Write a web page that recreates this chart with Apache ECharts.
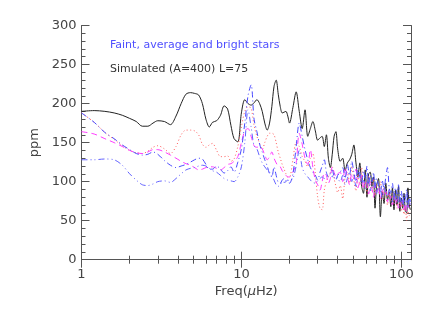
<!DOCTYPE html>
<html>
<head>
<meta charset="utf-8">
<script src="https://cdn.jsdelivr.net/npm/echarts@6/dist/echarts.min.js"></script>
<style>html,body{margin:0;padding:0;background:#fff}#c{width:436px;height:312px}</style>
</head>
<body>
<div id="c"></div>
<script>
var freq = [1,1.2,1.4,1.6,1.8,2,2.2,2.4,2.6,2.8,3,3.3,3.6,3.9,4.2,4.5,4.8,5.1,5.4,5.7,6,6.3,6.6,7,7.4,7.8,8.2,8.6,9,9.5,10,
 10.5,11,11.5,12,12.5,13,13.5,14,14.5,15,15.5,16,16.5,17,17.5,18,18.5,19,19.5,20,21,22,23,24,25,26,27,28,29,30,31,32,33,34,35,36,37,38,39,40,
 41.5,43,44.5,46,47.5,49,50.5,52,53.5,55,56.5,58,59.5,61,62.5,64,65.5,67,68.5,70,72,74,76,78,80,82,84,86,88,90,92,94,96,98,100,102,104,106,108,110,112,114];

var simulated = [190,191,190,188,185,181,177,171,171,175,178,177,173,184,200,212,214,213,211,200,180,170,176,178,185,197,193,172,155,151,188,
 205,200,198,201,205,200,190,175,166,175,196,222,230,212,196,188,189,190,184,175,195,215,190,168,192,158,168,177,165,153,156,158,145,160,130,118,135,158,164,142,
 126,130,114,124,128,135,147,125,106,124,94,85,115,80,110,112,94,106,66,94,104,55,87,72,98,77,87,68,92,64,89,70,94,62,79,66,85,62,60,92,70,64];

var redDotted = [188,176,163,154,146,140,137,136,139,144,146,142,136,145,160,166,166,165,160,148,144,147,149,140,132,132,133,126,129,145,170,
 190,196,194,172,158,149,141,150,158,162,162,160,150,138,130,122,116,110,106,106,128,150,145,132,126,119,130,136,110,80,66,64,89,100,106,112,119,104,94,86,
 95,78,105,112,98,120,102,88,110,96,118,92,100,84,108,94,88,104,82,96,86,100,78,92,84,70,90,76,85,72,80,66,78,70,62,76,58,68,50,62,56,60];

var magentaDashed = [164,161,155,150,145,140,137,136,138,141,141,138,134,130,126,123,121,118,115,116,118,119,119,117,115,118,122,123,126,132,150,
 165,168,158,146,144,145,142,134,128,132,138,130,124,120,119,114,111,108,106,106,112,124,162,148,130,122,141,118,102,96,89,100,111,108,98,104,119,112,106,110,
 112,100,118,106,96,110,104,116,92,100,108,90,102,96,84,100,92,80,96,86,94,78,90,82,88,74,84,78,70,82,72,78,66,74,68,76,64,72,62,70,66,72];

var blueDashDot = [188,176,163,155,147,141,136,134,135,138,135,127,121,118,120,122,125,128,130,129,122,116,116,120,116,111,114,119,112,125,142,
 175,210,224,180,164,148,138,128,120,110,106,119,108,99,98,102,104,101,99,98,110,145,175,158,141,128,118,112,108,102,112,120,128,112,106,110,115,106,102,108,
 112,118,104,122,108,126,112,100,118,106,98,114,104,120,96,108,100,112,92,104,96,86,102,90,106,118,92,86,98,80,92,84,96,76,88,72,84,78,90,70,82,74];

var blueDashDotDot = [128,128,129,128,121,110,102,96,95,97,100,101,99,104,110,115,117,118,120,121,120,117,114,112,108,104,102,101,100,106,119,
 150,192,170,146,142,132,124,119,115,112,108,102,96,94,96,100,99,100,102,101,104,120,140,118,110,106,102,99,98,101,104,106,104,106,108,111,106,110,108,104,
 100,108,96,104,112,100,108,94,104,112,96,102,90,98,104,88,98,92,100,84,96,90,80,94,86,78,90,82,74,88,76,86,72,82,74,84,68,80,72,66,78,70];

var xMajorTicks = [1, 10, 100];
var xMinorTicks = [2,3,4,5,6,7,8,9,20,30,40,50,60,70,80,90];

function pairs(vals) { return freq.map(function (f, i) { return [f, vals[i]]; }); }

var FONT = 'DejaVu Sans';
var AX = '#555';
var gridRect = { left: 81.5, right: 25, top: 25.5, bottom: 52.3 };

function tickAxis(pos, grid, ticks, len, showLine) {
  return { type: 'log', logBase: 10, min: 1, max: 115, gridIndex: grid, position: pos,
    axisLine: { show: showLine, lineStyle: { color: AX, width: 1 } },
    axisTick: { show: true, inside: true, length: len, customValues: ticks, lineStyle: { color: AX, width: 1 } },
    minorTick: { show: false }, splitLine: { show: false }, axisLabel: { show: false } };
}

var chart = echarts.init(document.getElementById('c'), null, { renderer: 'canvas' });
chart.setOption({
  animation: false,
  backgroundColor: '#fff',
  title: [
    { text: 'Faint, average and bright stars', left: 110, top: 40, padding: 0,
      textStyle: { fontFamily: FONT, fontSize: 11, fontWeight: 'normal', color: '#4f4fff' } },
    { text: 'Simulated (A=400) L=75', left: 110, top: 64, padding: 0,
      textStyle: { fontFamily: FONT, fontSize: 11, fontWeight: 'normal', color: '#333' } }
  ],
  grid: [
    Object.assign({}, gridRect),
    Object.assign({}, gridRect),
    Object.assign({}, gridRect)
  ],
  xAxis: [
    { type: 'log', logBase: 10, min: 1, max: 115, gridIndex: 0, position: 'bottom',
      name: '{a|Freq(}{b|μ}{a|Hz)}', nameLocation: 'middle', nameGap: 24,
      nameTextStyle: { rich: {
        a: { fontFamily: FONT, fontSize: 13, color: '#444' },
        b: { fontFamily: FONT, fontSize: 13, color: '#444', fontStyle: 'italic' } } },
      axisLine: { show: true, lineStyle: { color: AX, width: 1 } },
      axisTick: { show: true, inside: true, length: 8, customValues: xMajorTicks, lineStyle: { color: AX } },
      minorTick: { show: false },
      splitLine: { show: false },
      axisLabel: { customValues: xMajorTicks, margin: 8, fontFamily: FONT, fontSize: 13, color: '#444' } },
    tickAxis('top', 0, xMajorTicks, 8, true),
    tickAxis('bottom', 1, xMinorTicks, 4, false),
    tickAxis('top', 2, xMinorTicks, 4, false)
  ],
  yAxis: [
    { type: 'value', min: 0, max: 300, interval: 50, gridIndex: 0, position: 'left',
      name: 'ppm', nameLocation: 'middle', nameGap: 37, nameRotate: 90,
      nameTextStyle: { fontFamily: FONT, fontSize: 13, color: '#444' },
      axisLine: { show: true, lineStyle: { color: AX, width: 1 } },
      axisTick: { show: true, inside: true, length: 8, lineStyle: { color: AX } },
      minorTick: { show: true, splitNumber: 5, length: 4, lineStyle: { color: AX } },
      splitLine: { show: false },
      axisLabel: { margin: 5, fontFamily: FONT, fontSize: 13, color: '#444' } },
    { type: 'value', min: 0, max: 300, interval: 50, gridIndex: 0, position: 'right',
      axisLine: { show: true, lineStyle: { color: AX, width: 1 } },
      axisTick: { show: true, inside: true, length: 8, lineStyle: { color: AX } },
      minorTick: { show: true, splitNumber: 5, length: 4, lineStyle: { color: AX } },
      splitLine: { show: false }, axisLabel: { show: false } },
    { type: 'value', min: 0, max: 300, gridIndex: 1, show: false },
    { type: 'value', min: 0, max: 300, gridIndex: 2, show: false }
  ],
  series: [
    { name: 'Simulated', type: 'line', xAxisIndex: 0, yAxisIndex: 0, data: pairs(simulated),
      showSymbol: false, smooth: 0.3, lineStyle: { color: '#222', width: 1 } },
    { name: 'Red', type: 'line', xAxisIndex: 0, yAxisIndex: 0, data: pairs(redDotted),
      showSymbol: false, smooth: 0.3, lineStyle: { color: '#ff5c5c', width: 1, type: [1, 2.5] } },
    { name: 'Magenta', type: 'line', xAxisIndex: 0, yAxisIndex: 0, data: pairs(magentaDashed),
      showSymbol: false, smooth: 0.3, lineStyle: { color: '#ff3cff', width: 1, type: [6, 4] } },
    { name: 'BlueDashDot', type: 'line', xAxisIndex: 0, yAxisIndex: 0, data: pairs(blueDashDot),
      showSymbol: false, smooth: 0.3, lineStyle: { color: '#4a4aff', width: 1, type: [6, 3, 1, 3] } },
    { name: 'BlueDashDotDot', type: 'line', xAxisIndex: 0, yAxisIndex: 0, data: pairs(blueDashDotDot),
      showSymbol: false, smooth: 0.3, lineStyle: { color: '#6262ff', width: 1, type: [6, 3, 1, 3, 1, 3] } },
    { name: 'tickHelper1', type: 'line', xAxisIndex: 2, yAxisIndex: 2, data: [], silent: true },
    { name: 'tickHelper2', type: 'line', xAxisIndex: 3, yAxisIndex: 3, data: [], silent: true }
  ]
});
</script>
</body>
</html>
